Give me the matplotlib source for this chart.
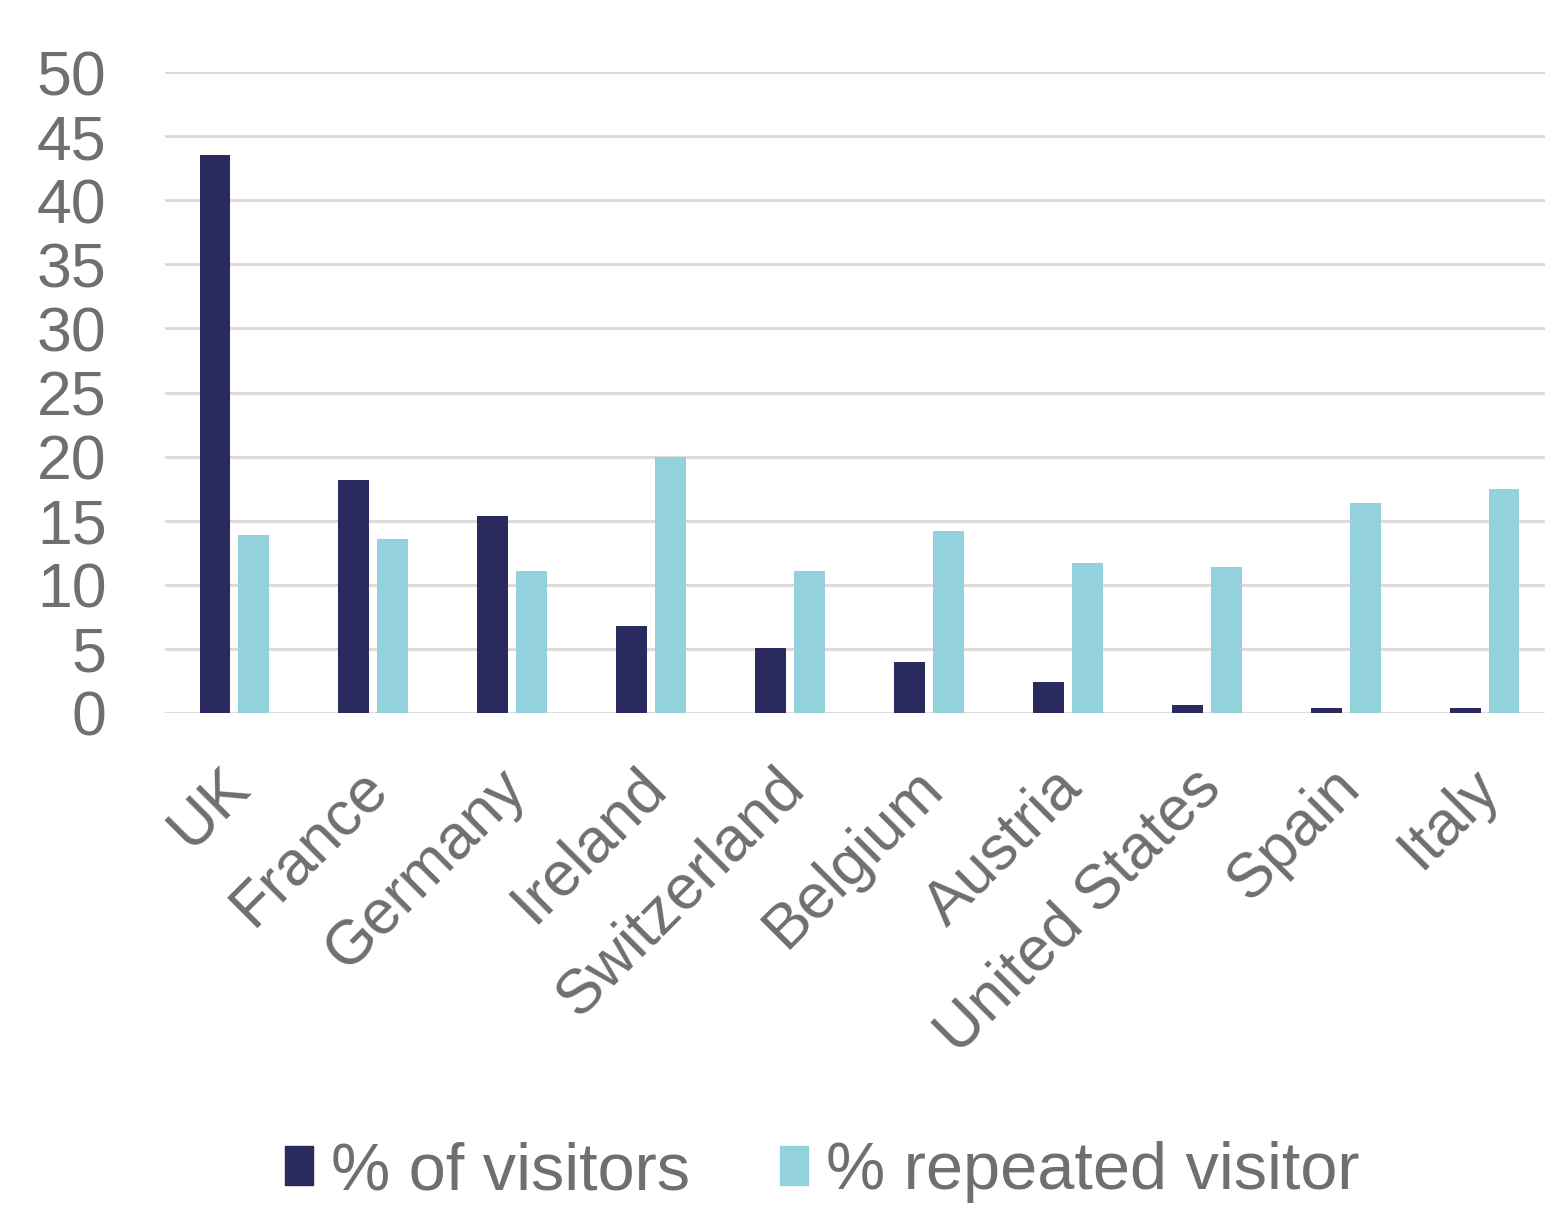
import numpy as np
import matplotlib.pyplot as plt
import matplotlib.transforms as mtransforms
from matplotlib.patches import Patch

plt.rcParams['font.family'] = ['Liberation Sans', 'DejaVu Sans']

countries = ['UK', 'France', 'Germany', 'Ireland', 'Switzerland', 'Belgium',
             'Austria', 'United States', 'Spain', 'Italy']
pct_visitors = [43.5, 18.2, 15.4, 6.8, 5.1, 4.0, 2.4, 0.6, 0.4, 0.4]
pct_repeated = [13.9, 13.6, 11.1, 20.0, 11.1, 14.2, 11.7, 11.4, 16.4, 17.5]
yticks = [0, 5, 10, 15, 20, 25, 30, 35, 40, 45, 50]

dark = '#2b2a5f'
light = '#93d1dc'
grey = '#6f6f6f'
gridc = '#e3d9d9'

W, H = 1545, 1206
fig = plt.figure(figsize=(W / 100, H / 100), dpi=100)
ax = fig.add_axes([165 / W, 1 - 713 / H, (1554 - 165) / W, (713 - 72) / H])

x = np.arange(len(countries))
bw = 0.223
ax.bar(x - 0.14, pct_visitors, bw, color=dark, zorder=3)
ax.bar(x + 0.14, pct_repeated, bw, color=light, zorder=3)

ax.set_xlim(-0.5, len(countries) - 0.5)
ax.set_ylim(0, 50)
ax.set_yticks(yticks)
ax.yaxis.grid(True, color=gridc, linewidth=2.2, zorder=0)
ax.set_axisbelow(True)
for s in ['top', 'right', 'left', 'bottom']:
    ax.spines[s].set_visible(False)
ax.tick_params(axis='both', length=0, colors=grey, labelsize=45)
ax.tick_params(axis='y', pad=42)
ax.set_xticks(x)
ax.set_xticklabels(countries, rotation=45, ha='right', rotation_mode='anchor',
                   fontsize=45, color=grey)
ax.tick_params(axis='x', pad=26)
# nudge rotated labels a little left/down
shift = mtransforms.ScaledTranslation(-16 / 100, -8 / 100, fig.dpi_scale_trans)
for lbl in ax.get_xticklabels():
    lbl.set_transform(lbl.get_transform() + shift)

handles = [Patch(color=dark, label='% of visitors'),
           Patch(color=light, label='% repeated visitor')]
fig.legend(handles=handles, loc='center', bbox_to_anchor=(822 / W, 1 - 1172 / H),
           ncol=2, frameon=False, fontsize=48, labelcolor=grey,
           handlelength=0.43, handleheight=0.52, handletextpad=0.26,
           columnspacing=1.35)

fig.savefig('out.png', dpi=100)
